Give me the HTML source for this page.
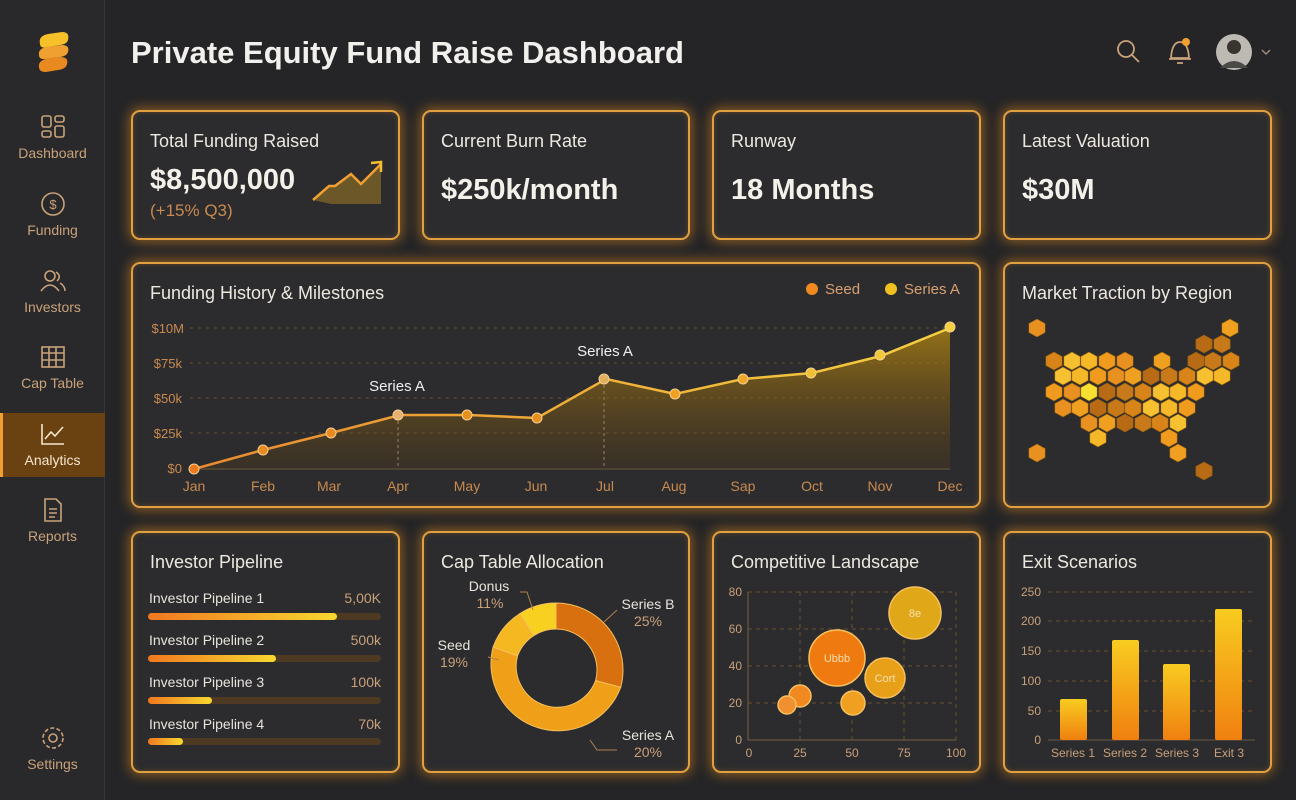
<!DOCTYPE html>
<html><head><meta charset="utf-8"><style>
*{margin:0;padding:0;box-sizing:border-box}
body{width:1296px;height:800px;background:#252527;font-family:"Liberation Sans",sans-serif;color:#e8e4dc;position:relative;overflow:hidden}
.side{position:absolute;left:0;top:0;width:105px;height:800px;background:#29292b;border-right:1px solid #3a3530}
.nav{position:absolute;left:0;width:105px;text-align:center;font-size:14px;color:#c9a27a}
.nav svg{display:block;margin:0 auto 6px}
.card{position:absolute;background:#2c2c2e;border:2px solid #e0a040;border-radius:9px;box-shadow:0 0 12px 2px rgba(230,140,30,.55),inset 0 0 6px rgba(230,140,30,.25)}
.ct{position:absolute;left:17px;top:19px;font-size:18px;color:#ece8e0}
.big{position:absolute;left:17px;font-size:29px;font-weight:bold;color:#f4f0ea}
</style></head><body>
<div class="side">
  <svg style="position:absolute;left:34px;top:30px" width="40" height="46" viewBox="0 0 40 46"><path d="M6 14 Q4 6 14 4 L28 2 Q36 2 34 10 Q33 14 26 15 L14 17 Q6 19 6 14Z" fill="#f5c02a"/><path d="M5 25 Q4 19 12 17 L28 15 Q36 15 34 22 Q33 26 26 27 L12 29 Q5 30 5 25Z" fill="#f0a030"/><path d="M5 37 Q4 31 12 29 L26 27 Q35 27 33 34 Q32 39 24 40 L12 42 Q5 42 5 37Z" fill="#e88a20"/></svg>
  <div class="nav" style="top:115px"><svg width="26" height="24" viewBox="0 0 26 24" fill="none" stroke="#c9a27a" stroke-width="1.6"><rect x="2" y="1" width="9" height="11" rx="2"/><rect x="15" y="1" width="9" height="6" rx="2"/><rect x="2" y="16" width="9" height="6" rx="2"/><rect x="15" y="11" width="9" height="11" rx="2"/></svg>Dashboard</div>
  <div class="nav" style="top:192px"><svg width="26" height="24" viewBox="0 0 26 24" fill="none" stroke="#c9a27a" stroke-width="1.6"><circle cx="13" cy="12" r="11"/><text x="13" y="17" font-size="13" text-anchor="middle" fill="#c9a27a" stroke="none">$</text></svg>Funding</div>
  <div class="nav" style="top:269px"><svg width="26" height="24" viewBox="0 0 26 24" fill="none" stroke="#c9a27a" stroke-width="1.6"><circle cx="10" cy="7" r="5"/><path d="M1 22 Q10 10 19 22"/><path d="M16 3 Q22 7 17 12 M20 14 Q25 17 25 22"/></svg>Investors</div>
  <div class="nav" style="top:345px"><svg width="26" height="24" viewBox="0 0 26 24" fill="none" stroke="#c9a27a" stroke-width="1.6"><rect x="2" y="2" width="22" height="20"/><path d="M2 8H24M2 15H24M9 2V22M16 2V22"/></svg>Cap Table</div>
  <div style="position:absolute;left:0;top:413px;width:105px;height:64px;background:#6a4212"></div>
  <div style="position:absolute;left:0;top:413px;width:3px;height:64px;background:#f0a030"></div>
  <div class="nav" style="top:422px;color:#f5e6cc"><svg width="26" height="24" viewBox="0 0 26 24" fill="none" stroke="#f5e6cc" stroke-width="1.6"><path d="M2 2V22H24"/><path d="M5 17 L11 10 L15 14 L23 5"/></svg>Analytics</div>
  <div class="nav" style="top:498px"><svg width="26" height="24" viewBox="0 0 26 24" fill="none" stroke="#c9a27a" stroke-width="1.6"><path d="M5 1H16L21 6V23H5Z"/><path d="M9 11H17M9 15H17M9 19H15"/></svg>Reports</div>
  <div class="nav" style="top:726px"><svg width="26" height="24" viewBox="0 0 26 24" fill="none" stroke="#c9a27a" stroke-width="1.6"><circle cx="13" cy="12" r="4"/><circle cx="13" cy="12" r="10" stroke-dasharray="4 2.3"/></svg>Settings</div>
</div>
<div style="position:absolute;left:131px;top:35px;font-size:31px;font-weight:bold;color:#f2f0ec">Private Equity Fund Raise Dashboard</div>
<svg style="position:absolute;left:1110px;top:34px" width="170" height="40">
  <circle cx="16" cy="15" r="8" fill="none" stroke="#c9a27a" stroke-width="1.8"/><path d="M22 21 L29 28" stroke="#c9a27a" stroke-width="1.8"/>
  <path d="M61 24 Q62 8 70 8 Q78 8 79 24Z M59 25H81 M67 29H73" fill="none" stroke="#c9a27a" stroke-width="1.8"/><circle cx="76" cy="8" r="4" fill="#f0a030"/>
  <circle cx="124" cy="18" r="18" fill="#bdbab4"/><circle cx="124" cy="13" r="7" fill="#3a3430"/><path d="M110 34 Q124 20 138 34Z" fill="#4a4a48"/>
  <path d="M152 16 L156 20 L160 16" fill="none" stroke="#9a8a7a" stroke-width="1.5"/>
</svg>

<div class="card" style="left:131px;top:110px;width:269px;height:130px"><div class="ct">Total Funding Raised</div><div class="big" style="top:52px">$8,500,000</div><div style="position:absolute;left:17px;top:89px;font-size:17px;color:#c98a50">(+15% Q3)</div>
<svg style="position:absolute;left:178px;top:44px" width="75" height="50"><path d="M2 44 L18 30 L24 30 L40 18 L50 28 L70 8 V48 H20Z" fill="rgba(230,170,30,.35)"/><path d="M2 44 L18 30 L24 30 L40 18 L50 28 L70 8" fill="none" stroke="#f0a030" stroke-width="2.5"/><path d="M60 7 L70 6 L70 16" fill="none" stroke="#f5c030" stroke-width="2.5"/></svg></div>
<div class="card" style="left:422px;top:110px;width:268px;height:130px"><div class="ct">Current Burn Rate</div><div class="big" style="top:62px">$250k/month</div></div>
<div class="card" style="left:712px;top:110px;width:269px;height:130px"><div class="ct">Runway</div><div class="big" style="top:62px">18 Months</div></div>
<div class="card" style="left:1003px;top:110px;width:269px;height:130px"><div class="ct">Latest Valuation</div><div class="big" style="top:62px">$30M</div></div>

<div class="card" style="left:131px;top:262px;width:850px;height:246px"><div class="ct">Funding History &amp; Milestones</div></div>
<svg style="position:absolute;left:0;top:0" width="1296" height="800">
  <defs><linearGradient id="ar" x1="0" y1="0" x2="0" y2="1"><stop offset="0" stop-color="#b88a10" stop-opacity=".75"/><stop offset="1" stop-color="#6a4410" stop-opacity=".2"/></linearGradient>
  <linearGradient id="ln" x1="0" x2="1"><stop offset="0" stop-color="#e88a30"/><stop offset="1" stop-color="#f5d040"/></linearGradient>
  <linearGradient id="bar" x1="0" y1="0" x2="0" y2="1"><stop offset="0" stop-color="#f8cc20"/><stop offset="1" stop-color="#f08010"/></linearGradient>
  <linearGradient id="pb" x1="0" x2="1"><stop offset="0" stop-color="#f07820"/><stop offset="1" stop-color="#f8d830"/></linearGradient></defs>
  <g stroke="#6a5030" stroke-dasharray="3 5" stroke-width="1"><path d="M190 328H950M190 363H950M190 398H950M190 433H950"/></g>
  <path d="M190 469H950" stroke="#6a5a40"/>
  <g fill="#c98a50" font-size="13" text-anchor="end"><text x="184" y="333">$10M</text><text x="182" y="368">$75k</text><text x="182" y="403">$50k</text><text x="182" y="438">$25k</text><text x="182" y="473">$0</text></g>
  <path d="M194 469 L263 450 L331 433 L400 415 L469 415 L537 418 L606 379 L675 394 L743 379 L812 373 L881 356 L950 328 V469Z" fill="url(#ar)"/>
  <path d="M398 415V469M604 379V469" stroke="#a08060" stroke-dasharray="3 3"/>
  <path d="M194 469 L263 450 L331 433 L400 415 L469 415 L537 418 L606 379 L675 394 L743 379 L812 373 L881 356 L950 328" fill="none" stroke="url(#ln)" stroke-width="2.5"/>
  <g stroke="#f5d090" stroke-width="1"><circle cx="194" cy="469" r="5" fill="#e87a20"/><circle cx="263" cy="450" r="5" fill="#e88a20"/><circle cx="331" cy="433" r="5" fill="#e88a20"/><circle cx="398" cy="415" r="5" fill="#e8b070"/><circle cx="467" cy="415" r="5" fill="#e8901e"/><circle cx="537" cy="418" r="5" fill="#e8901e"/><circle cx="604" cy="379" r="5" fill="#e0b060"/><circle cx="675" cy="394" r="5" fill="#f0a020"/><circle cx="743" cy="379" r="5" fill="#f0a828"/><circle cx="811" cy="373" r="5" fill="#f0c030"/><circle cx="880" cy="355" r="5" fill="#f0c838"/><circle cx="950" cy="327" r="5" fill="#f5d040"/></g>
  <g fill="#eee" font-size="15" text-anchor="middle"><text x="397" y="391">Series A</text><text x="605" y="356">Series A</text></g>
  <g fill="#c98a50" font-size="14" text-anchor="middle"><text x="194" y="491">Jan</text><text x="263" y="491">Feb</text><text x="329" y="491">Mar</text><text x="398" y="491">Apr</text><text x="467" y="491">May</text><text x="536" y="491">Jun</text><text x="605" y="491">Jul</text><text x="674" y="491">Aug</text><text x="743" y="491">Sap</text><text x="812" y="491">Oct</text><text x="880" y="491">Nov</text><text x="950" y="491">Dec</text></g>
  <circle cx="812" cy="289" r="6" fill="#f08a20"/><text x="825" y="294" font-size="15" fill="#d8a070">Seed</text>
  <circle cx="891" cy="289" r="6" fill="#f0c020"/><text x="904" y="294" font-size="15" fill="#d8a070">Series A</text>
</svg>

<div class="card" style="left:1003px;top:262px;width:269px;height:246px"><div class="ct">Market Traction by Region</div></div>
<svg id="hex" style="position:absolute;left:0;top:0" width="1296" height="800"></svg>

<div class="card" style="left:131px;top:531px;width:269px;height:242px"><div class="ct">Investor Pipeline</div></div>
<div class="card" style="left:422px;top:531px;width:268px;height:242px"><div class="ct">Cap Table Allocation</div></div>
<div class="card" style="left:712px;top:531px;width:269px;height:242px"><div class="ct">Competitive Landscape</div></div>
<div class="card" style="left:1003px;top:531px;width:269px;height:242px"><div class="ct">Exit Scenarios</div></div>
<svg style="position:absolute;left:0;top:0" width="1296" height="800">
  <g font-size="14" fill="#e8e4dc"><text x="149" y="603">Investor Pipeline 1</text><text x="149" y="645">Investor Pipeline 2</text><text x="149" y="687">Investor Pipeline 3</text><text x="149" y="729">Investor Pipeline 4</text></g>
  <g font-size="14" fill="#c9a07a" text-anchor="end"><text x="381" y="603">5,00K</text><text x="381" y="645">500k</text><text x="381" y="687">100k</text><text x="381" y="729">70k</text></g>
  <g fill="#4e3a22"><rect x="148" y="613" width="233" height="7" rx="3.5"/><rect x="148" y="655" width="233" height="7" rx="3.5"/><rect x="148" y="697" width="233" height="7" rx="3.5"/><rect x="148" y="738" width="233" height="7" rx="3.5"/></g>
  <g fill="url(#pb)"><rect x="148" y="613" width="189" height="7" rx="3.5"/><rect x="148" y="655" width="128" height="7" rx="3.5"/><rect x="148" y="697" width="64" height="7" rx="3.5"/><rect x="148" y="738" width="35" height="7" rx="3.5"/></g>

  <g transform="translate(556 670)" stroke="#f5c060" stroke-width="1">
    <path d="M0 -67 A67 67 0 0 1 64.7 17.3 L39.6 10.6 A41 41 0 0 0 0 -41Z" fill="#d87010"/>
    <path d="M64.7 17.3 A67 67 0 0 1 -62.9 -23 L-38.5 -14 A41 41 0 0 0 39.6 10.6Z" fill="#f0a018"/>
    <path d="M-62.9 -23 A67 67 0 0 1 -36 -56.5 L-22 -34.6 A41 41 0 0 0 -38.5 -14Z" fill="#f5b820"/>
    <path d="M-36 -56.5 A67 67 0 0 1 0 -67 L0 -41 A41 41 0 0 0 -22 -34.6Z" fill="#f8d020"/>
  </g>
  <g stroke="#b08050" fill="none"><path d="M520 592 L527 592 L533 610"/><path d="M604 622 L617 610"/><path d="M488 657 L499 660"/><path d="M590 740 L597 750 L617 750"/></g>
  <g font-size="14" text-anchor="middle"><text x="489" y="591" fill="#e8e4dc">Donus</text><text x="490" y="608" fill="#c9a07a">11%</text>
  <text x="648" y="609" fill="#e8e4dc">Series B</text><text x="648" y="626" fill="#c9a07a">25%</text>
  <text x="454" y="650" fill="#e8e4dc">Seed</text><text x="454" y="667" fill="#c9a07a">19%</text>
  <text x="648" y="740" fill="#e8e4dc">Series A</text><text x="648" y="757" fill="#c9a07a">20%</text></g>

  <g stroke="#6a5030" stroke-dasharray="4 4"><path d="M748 592H956M748 629H956M748 666H956M748 703H956M800 592V740M852 592V740M904 592V740M956 592V740"/></g>
  <path d="M748 592V740H956" stroke="#7a6040" fill="none"/>
  <g font-size="12" fill="#c9a07a" text-anchor="end"><text x="742" y="596">80</text><text x="742" y="633">60</text><text x="742" y="670">40</text><text x="742" y="707">20</text><text x="742" y="744">0</text></g>
  <g font-size="12" fill="#c9a07a" text-anchor="middle"><text x="749" y="757">0</text><text x="800" y="757">25</text><text x="852" y="757">50</text><text x="904" y="757">75</text><text x="956" y="757">100</text></g>
  <g stroke="#f5c060" stroke-width="1.5"><circle cx="915" cy="613" r="26" fill="#e0a818"/><circle cx="837" cy="658" r="28" fill="#ee7a10"/><circle cx="885" cy="678" r="20" fill="#e8a018"/><circle cx="853" cy="703" r="12" fill="#f0a020"/><circle cx="800" cy="696" r="11" fill="#f08a20"/><circle cx="787" cy="705" r="9" fill="#f09030"/></g>
  <g font-size="11" fill="#f5e0b0" text-anchor="middle"><text x="915" y="617">8e</text><text x="837" y="662">Ubbb</text><text x="885" y="682">Cort</text></g>

  <g stroke="#6a5030" stroke-dasharray="4 4"><path d="M1048 592H1255M1048 621H1255M1048 651H1255M1048 681H1255M1048 711H1255"/></g>
  <path d="M1048 740H1255" stroke="#6a5a40"/>
  <g font-size="12" fill="#c9a07a" text-anchor="end"><text x="1041" y="596">250</text><text x="1041" y="625">200</text><text x="1041" y="655">150</text><text x="1041" y="685">100</text><text x="1041" y="715">50</text><text x="1041" y="744">0</text></g>
  <g fill="url(#bar)"><rect x="1060" y="699" width="27" height="41" rx="2"/><rect x="1112" y="640" width="27" height="100" rx="2"/><rect x="1163" y="664" width="27" height="76" rx="2"/><rect x="1215" y="609" width="27" height="131" rx="2"/></g>
  <g font-size="12" fill="#c9a07a" text-anchor="middle"><text x="1073" y="757">Series 1</text><text x="1125" y="757">Series 2</text><text x="1177" y="757">Series 3</text><text x="1229" y="757">Exit 3</text></g>
</svg>
<script>
var rows=[[328,[1037,1230]],[344,[1204,1222]],[361,[1054,1072,1089,1107,1125,1162,1196,1213,1231]],[376,[1063,1080,1098,1116,1133,1151,1169,1187,1205,1222]],[392,[1054,1072,1089,1107,1125,1143,1161,1178,1196]],[408,[1063,1080,1098,1116,1133,1151,1169,1187]],[423,[1089,1107,1125,1143,1160,1178]],[438,[1098,1169]],[453,[1037,1178]],[471,[1204]]];
var cols=["#f0a020","#f5b828","#c87a1a","#e89020","#f7c030","#b86a15","#f09a1e","#d88418"];
var s='',k=0;
rows.forEach(function(r){r[1].forEach(function(x){var y=r[0],a=9,b=8.2,c=cols[(k*5+3)%8];k++;
if(x==1089&&y==392)c="#f8e030";
s+='<polygon points="'+x+','+(y-a)+' '+(x+b)+','+(y-a/2)+' '+(x+b)+','+(y+a/2)+' '+x+','+(y+a)+' '+(x-b)+','+(y+a/2)+' '+(x-b)+','+(y-a/2)+'" fill="'+c+'" stroke="#8a5a10" stroke-width=".6"/>';});});
document.getElementById('hex').innerHTML=s;
</script>
</body></html>
